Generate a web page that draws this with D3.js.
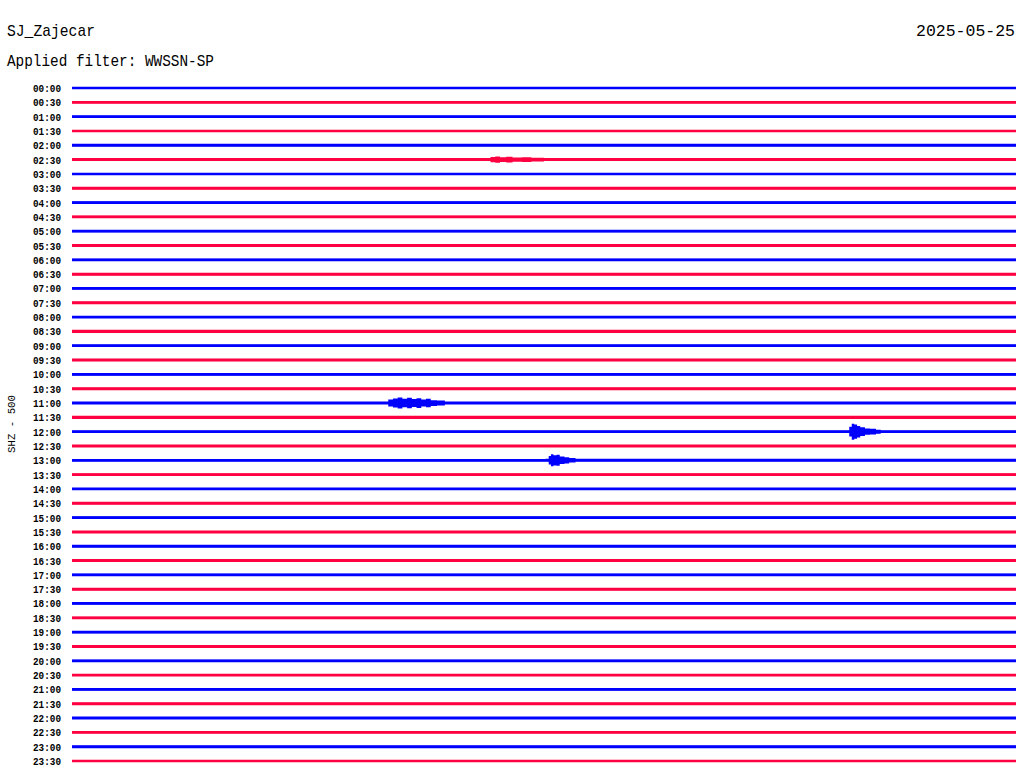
<!DOCTYPE html>
<html><head><meta charset="utf-8">
<script src="https://cdn.jsdelivr.net/npm/d3@7"></script>
<style>body{margin:0;background:#fff}svg{display:block}</style>
</head><body><div id="chart"></div>
<script>
// ---- data ----
const station = "SJ_Zajecar";
const dateLabel = "2025-05-25";
const filterLabel = "Applied filter: WWSSN-SP";
const channelLabel = "SHZ - 500";
const traceLabels = d3.range(48).map(i => String(Math.floor(i/2)).padStart(2,"0") + ":" + (i%2 ? "30" : "00"));
const traceColors = ["#0000ff", "#ff0040"];
// background noise half-amplitude (counts) per 30-min trace
const baseNoise = [
 45,50,48,45,50,52,45,50,48,50,50,52,48,52,48,50,50,55,48,52,50,52,
 50,55,50,52,48,50,48,50,48,52,50,50,48,52,48,50,50,52,48,50,50,52,50,50,52,48];
// events: trace index, minute offsets of envelope knots, envelope amplitudes (counts) at knots
const events = [
 {trace: 5,  minutes: [13.0, 13.3, 13.45, 13.6, 13.8, 14.0, 14.3, 14.6, 15.0],
             amp:     [50,   95,   110,   80,   100,  75,   85,   65,   50]},
 {trace: 22, minutes: [9.9, 10.05, 10.2, 10.35, 10.5, 10.65, 10.8, 10.95, 11.1, 11.25, 11.4, 11.6, 11.85],
             amp:     [50,  120,   160,  190,   150,  185,   140,  170,   120,  150,   100,  90,   50]},
 {trace: 24, minutes: [24.6, 24.7, 24.78, 24.86, 24.95, 25.05, 25.2, 25.36, 25.55, 25.7],
             amp:     [50,   170,  280,   250,   200,   150,   110,  100,   70,    50]},
 {trace: 26, minutes: [15.05, 15.15, 15.22, 15.3, 15.4, 15.5, 15.65, 15.8, 16.0],
             amp:     [50,    150,   210,   180,  190,  130,  110,   80,   50]}
];

// ---- layout ----
const W = 1024, H = 780;
const svg = d3.select("#chart").append("svg").attr("width", W).attr("height", H);
const x = d3.scaleLinear().domain([0, 30]).range([72, 1016]);
const row = d3.scaleLinear().domain([0, 47]).range([88, 761]);
const amp = d3.scaleLinear().domain([0, 500]).range([0, 14.3]);

const mono = "'Liberation Mono', 'DejaVu Sans Mono', monospace";
svg.append("text").attr("x", 7).attr("y", 36).attr("font-family", mono).attr("font-size", 17)
  .attr("textLength", 88).attr("lengthAdjust", "spacingAndGlyphs").text(station);
svg.append("text").attr("x", 1015).attr("y", 36).attr("text-anchor", "end").attr("font-family", mono).attr("font-size", 17)
  .attr("textLength", 99).attr("lengthAdjust", "spacingAndGlyphs").text(dateLabel);
svg.append("text").attr("x", 7).attr("y", 66).attr("font-family", mono).attr("font-size", 17)
  .attr("textLength", 207).attr("lengthAdjust", "spacingAndGlyphs").text(filterLabel);
svg.append("text").attr("transform", "translate(15,424) rotate(-90)").attr("text-anchor", "middle")
  .attr("font-family", mono).attr("font-size", 11).attr("textLength", 58).attr("lengthAdjust", "spacingAndGlyphs").text(channelLabel);

// labels
svg.append("g").selectAll("text").data(traceLabels).join("text")
  .attr("x", 61).attr("y", (d, i) => row(i) + 4).attr("text-anchor", "end")
  .attr("font-family", mono).attr("font-size", 11.5).attr("font-weight", "bold")
  .attr("textLength", 28).attr("lengthAdjust", "spacingAndGlyphs").text(d => d);

// traces as envelope bands
const area = d3.area().x(d => x(d[0])).y0(d => -amp(d[1])).y1(d => amp(d[1])).curve(d3.curveStepAfter);
const traces = traceLabels.map((lab, i) => {
  let knots = [[0, baseNoise[i]], [30, baseNoise[i]]];
  events.filter(e => e.trace === i).forEach(e => {
    e.minutes.forEach((m, k) => knots.push([m, Math.max(e.amp[k], baseNoise[i])]));
  });
  knots.sort((a, b) => a[0] - b[0]);
  return {i, knots};
});
const g = svg.append("g").selectAll("g").data(traces).join("g")
  .attr("transform", d => `translate(0,${row(d.i)})`);
g.append("path").attr("d", d => area(d.knots)).attr("fill", d => traceColors[d.i % 2]);
g.append("line").attr("x1", x(0)).attr("x2", x(30)).attr("y1", 0).attr("y2", 0)
  .attr("stroke", d => traceColors[d.i % 2]).attr("stroke-width", 2);
</script></body></html>
